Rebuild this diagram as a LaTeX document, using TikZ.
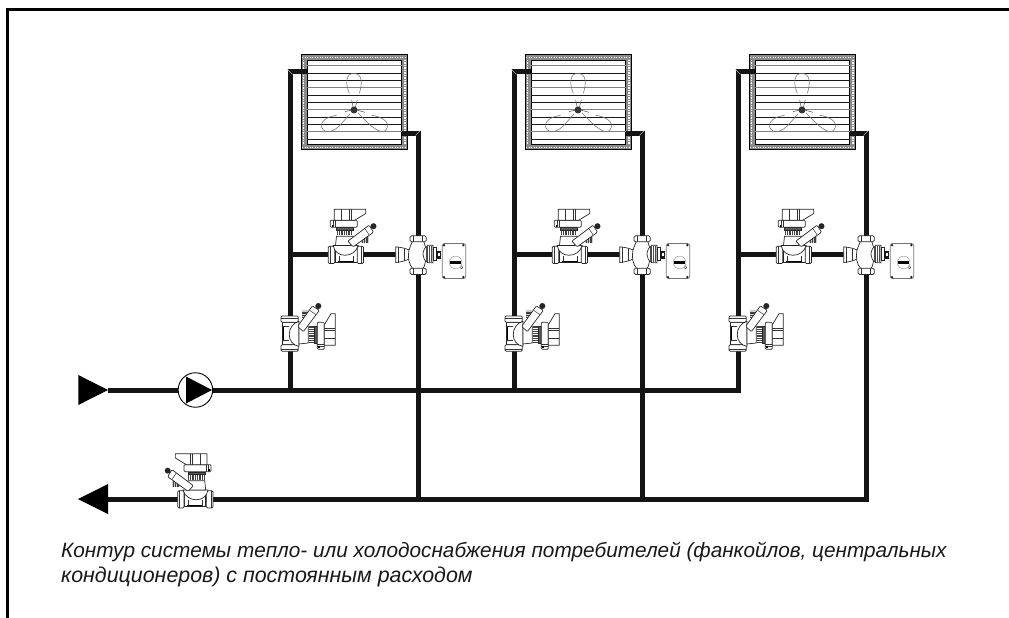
\documentclass[tikz,border=0pt]{standalone}
\usepackage{fontspec}
\usetikzlibrary{calc}
\setmainfont{Liberation Sans}
\tikzset{
  pipe/.style={line width=5pt,black!92,line join=miter,line cap=butt},
  frameline/.style={line width=3pt,black},
  part/.style={draw=black!85,line width=.7pt,fill=white},
  thinl/.style={draw=black!80,line width=.5pt},
  bladel/.style={draw=black!55,line width=.55pt},
  miterl/.style={draw=black!35,line width=.5pt},
  caption/.style={anchor=base west,inner sep=0pt,text=black!90},
  fan/.pic={
    \begin{scope}[x=.3333pt,y=-.3333pt]
      \draw[draw=black,line width=1pt,fill=black!45] (95,14) rectangle (412,300);
      \draw[white,line width=1.5pt,dash pattern=on 1.3pt off 1.2pt] (96,22) -- (411,22);
      \draw[white,line width=1.5pt,dash pattern=on 1.3pt off 1.2pt] (96,292) -- (411,292);
      \draw[white,line width=1.2pt,dash pattern=on 1.3pt off 1.2pt] (101,30) -- (101,285);
      \draw[white,line width=1.2pt,dash pattern=on 1.3pt off 1.2pt] (405,30) -- (405,285);
      \draw[draw=black,line width=1pt,fill=white] (112,32) rectangle (395,284);
      \foreach \yy in {47,113,179,245}
        \draw[black!50,line width=1.6pt] (112,\yy) -- (395,\yy);
      \foreach \yy in {70,92,135,157,201,223,268}
        \draw[black!90,line width=.7pt] (112,\yy) -- (395,\yy);
      \draw[bladel] (238,130) .. controls (225,100) and (228,70) .. (251,70) .. controls (277,70) and (278,100) .. (268,130);
      \draw[bladel] (200,196) .. controls (170,200) and (150,215) .. (155,232) .. controls (165,255) and (195,245) .. (215,220);
      \draw[bladel] (305,196) .. controls (335,200) and (358,215) .. (352,232) .. controls (345,255) and (320,245) .. (290,215);
      \draw[bladel] (215,220) -- (240,192) (290,215) -- (265,190);
      \draw[black!70,line width=.5pt] (245,150) -- (250,175) (262,150) -- (255,175) (225,185) -- (245,180) (285,187) -- (260,180);
      \fill[black!80] (252,180) circle (10.5);
    \end{scope}
  },
  balv/.pic={
    \begin{scope}[x=.3333pt,y=-.3333pt,shift={(-227,-193)}]
      \draw[part] (197,172) rectangle (262,216);
      \draw[black,line width=.9pt] (205,213) -- (252,213);
      \draw[thinl] (207,197) -- (207,213) (250,197) -- (250,213);
      \draw[part,rounded corners=1.2pt] (175,168) rectangle (195,220);
      \draw[part,rounded corners=1.2pt] (262,168) rectangle (281,220);
      \draw[thinl] (180,168) -- (180,220) (275,168) -- (275,220);
      \draw[part] (190,166) .. controls (195,205) and (255,205) .. (265,166) -- cycle;
      \draw[part] (197,166) -- (200,138) -- (250,138) -- (255,166) -- cycle;
      \fill[black!20] (274,138) rectangle (298,158);
      \foreach \xx in {278,283,288,293} \draw[black!75,line width=.6pt] (\xx,138) -- (\xx,158);
      \fill[black!85] (311,108) circle (9);
      \draw[part,rounded corners=1pt] (234,153) -- (298,105) -- (311,126) -- (250,170) -- cycle;
      \draw[thinl] (285,115) -- (298,134);
      \fill[black!75] (200,115) rectangle (250,135);
      \foreach \xx in {205,212,219,226,233,240,246} \draw[white,line width=.25pt] (\xx,115) -- (\xx,135);
      \draw[black!85,fill=black!65,line width=.4pt] (200,112) rectangle (250,120);
      \draw[part,rounded corners=1pt] (181,90) rectangle (262,111);
      \draw[thinl] (190,90) -- (190,111) (195,90) -- (195,111);
      \fill[black] (185,103) rectangle (190,109);
      \draw[part,line join=round] (193,57) -- (288,57) -- (288,70) -- (255,90) -- (193,90) -- cycle;
      \draw[thinl] (213,57) -- (213,90) (237,57) -- (237,90) (243,57) -- (243,90);
    \end{scope}
  },
  thrv/.pic={
    \begin{scope}[x=.3333pt,y=-.3333pt,shift={(-445,-193)}]
      \draw[part] (378,170) .. controls (400,172) and (410,176) .. (420,180) -- (420,206) .. controls (410,210) and (400,215) .. (378,217) -- cycle;
      \draw[thinl] (386,170) -- (386,217) (405,175) -- (405,212);
      \draw[part] (430,150) -- (460,150) .. controls (472,170) and (472,215) .. (460,236) -- (430,236) .. controls (418,225) and (413,200) .. (418,180) .. controls (421,170) and (425,160) .. (430,150) -- cycle;
      \draw[part,rounded corners=1.5pt] (421,137) rectangle (470,155);
      \draw[part,rounded corners=1.5pt] (421,234) rectangle (470,253);
      \draw[thinl] (431,137) -- (431,155) (458,137) -- (458,155) (431,234) -- (431,253) (458,234) -- (458,253);
      \draw[part] (475,165) .. controls (455,178) and (455,208) .. (475,218) -- (490,218) -- (490,165) -- cycle;
      \foreach \xx in {469,474,480,485} \draw[black!70,line width=.6pt] (\xx,167) -- (\xx,216);
      \draw[part] (490,172) rectangle (500,212);
      \fill[black!90] (500,181) rectangle (515,205);
      \fill[white] (504,187) rectangle (510,198);
      \draw[part,draw=black!55,rounded corners=2pt] (518,160) rectangle (588,265);
      \foreach \xx/\yy in {523/165,581/165,523/261,581/261} \fill[black!85] (\xx,\yy) circle (4);
      \draw[black!45,line width=.4pt] (558,217) circle (19);
      \fill[black] (541,211) rectangle (575,222);
      \draw[black!70,line width=.5pt] (571,232) arc (180:-90:4);
    \end{scope}
  }
}
\begin{document}
\begin{tikzpicture}[x=1pt,y=-1pt]
  \useasboundingbox (0,0) rectangle (1009,618);
  \coordinate (fc) at (7.7,10);
  \coordinate (fr) at (1009,10);
  \coordinate (fb) at (7.7,618);
  \draw[frameline] (fb) -- (fc) -- (fr);

  % fan coils and junctions
  \foreach \k in {0,1,2} {
    \pgfmathsetmacro{\ox}{224*\k}
    \begin{scope}[shift={(\ox,0)}]
      \pic (fan\k) at (270,50) {fan};
      \coordinate (fl\k) at (307,72);
      \coordinate (tl\k) at (290,72);
      \coordinate (fr\k) at (402,133);
      \coordinate (tr\k) at (418,133);
      \coordinate (bl\k) at (290,254.5);
      \coordinate (br\k) at (418,254.5);
      \coordinate (sl\k) at (290,390);
      \coordinate (rr\k) at (418,499);
    \end{scope}
    \draw[pipe] (fl\k) -- (tl\k) -- (sl\k);
    \draw[pipe] (fr\k) -- (tr\k) -- (rr\k);
    \draw[pipe] (bl\k) -- (br\k);
    \draw[miterl] ($(tl\k)+(-2.5,-2.5)$) -- ($(tl\k)+(2.5,2.5)$);
    \draw[miterl] ($(tr\k)+(2.5,-2.5)$) -- ($(tr\k)+(-2.5,2.5)$);
  }

  % main lines
  \node[circle,draw=black,line width=.9pt,fill=white,minimum size=34.5pt,inner sep=0pt] (pump) at (195.4,390) {};
  \coordinate (sin) at (108,390);
  \coordinate (rout) at (108,499);
  \draw[pipe] (sin) -- (pump.west);
  \draw[pipe] (pump.east) -- ($(sl2)+(2.5,0)$);
  \draw[pipe] (rout) -- ($(rr2)+(2.5,0)$);

  % flow arrows
  \fill[black] (78.3,375) -- (108,390) -- (78.3,405) -- cycle;
  \fill[black] (78,499) -- (108,484) -- (108,514) -- cycle;
  \fill[black] (186,376.5) -- (212,390) -- (186,403.5) -- cycle;

  % valves
  \foreach \k in {0,1,2} {
    \pgfmathsetmacro{\ox}{224*\k}
    \begin{scope}[shift={(\ox,0)}]
      \pic (bv\k) at (345.5,254.5) {balv};
      \pic (tv\k) at (418,254.5) {thrv};
      \begin{scope}[shift={(290,334)},cm={0,1,1,0,(0,0)}]
        \pic[transform shape] (sv\k) at (0,0) {balv};
      \end{scope}
    \end{scope}
  }
  \begin{scope}[shift={(195.7,499)},xscale=-1]
    \pic[transform shape] (rv) at (0,0) {balv};
  \end{scope}

  \node[caption,font=\fontsize{20.75}{24}\selectfont\itshape] (cap1) at (61,557.3) {Контур системы тепло- или холодоснабжения потребителей (фанкойлов, центральных};
  \node[caption,font=\fontsize{21.4}{24}\selectfont\itshape] (cap2) at (61,582) {кондиционеров) с постоянным расходом};
\end{tikzpicture}
\end{document}
